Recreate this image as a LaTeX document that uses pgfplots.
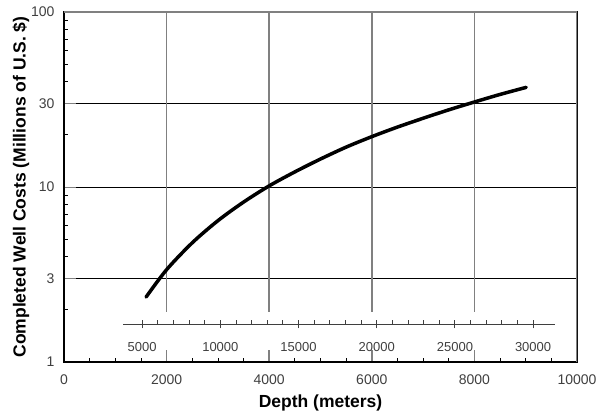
\documentclass[border=0pt]{standalone}
\usepackage{pgfplots}
\pgfplotsset{compat=1.18}
\usepackage{fontspec}
\setmainfont{Liberation Sans}
\definecolor{gridgray}{HTML}{808080}
\definecolor{labgray}{HTML}{3F3F3F}

\begin{document}
\begin{tikzpicture}
\useasboundingbox (-64bp,-53bp) rectangle (533bp,362bp);
% main axis: depth in meters, log cost
\begin{axis}[
    scale only axis,
    width=513bp, height=350bp,
    xmin=0, xmax=10000,
    ymode=log, ymin=1, ymax=100,
    xtick={0,2000,...,10000},
    minor x tick num=3,
    ytick={1,3,10,30,100},
    yticklabels={1,3,10,30,100},
    minor ytick={2,4,5,6,7,8,9,20,40,50,60,70,80,90},
    tick pos=left, tick align=inside,
    major tick length=12bp, minor tick length=4bp,
    every major x tick/.append style={gridgray, line width=1.5bp},
    every minor tick/.append style={black, line width=0.8bp},
    ymajorgrids,
    grid style={black, line width=0.9bp},
    axis line style={black, line width=1.2bp},
    scaled x ticks=false,
    /pgf/number format/1000 sep={},
    /pgf/number format/assume math mode=true,
    tick label style={font=\fontsize{14bp}{16bp}\selectfont, text=labgray},
    xticklabel style={anchor=center, yshift=-18bp},
    yticklabel style={xshift=-6bp},
    xlabel={Depth (meters)},
    ylabel={Completed Well Costs (Millions of U.S. \$)},
    label style={font=\fontsize{17.5bp}{19bp}\selectfont\bfseries},
    xlabel style={at={(axis description cs:0.5,-0.117)}, anchor=center},
    ylabel style={at={(axis description cs:-0.0838,0.5)}, anchor=center},
]
\pgfplotsinvokeforeach{2000,4000,6000,8000}{
  \draw[gridgray, line width=1.5bp] (axis cs:#1,1.931) -- (axis cs:#1,100);
}
\draw[gridgray, line width=1.5bp] (rel axis cs:0,1) -- (rel axis cs:1,1) -- (rel axis cs:1,0);
\addplot[black, line width=3.5bp, smooth, line cap=round] coordinates {
  (1600,2.35) (2000,3.37) (2500,4.80) (3000,6.42) (3500,8.20)
  (4000,10.15) (4500,12.2) (5000,14.45) (5500,16.9) (6000,19.4)
  (6500,22.0) (7000,24.7) (7500,27.6) (8000,30.6) (8500,33.8) (9010,37.1)
};
\end{axis}
% secondary axis: depth in feet
\begin{axis}[
    scale only axis,
    width=431.56bp, height=20bp,
    at={(59.42bp,37.7bp)}, anchor=south west,
    xmin=3800, xmax=31400, ymin=0, ymax=1,
    axis x line*=bottom,
    hide y axis,
    xtick={5000,10000,...,30000},
    minor x tick num=4,
    tick align=center,
    major tick length=8bp, minor tick length=4bp,
    every minor tick/.append style={yshift=2bp},
    axis line style={labgray, line width=1.2bp},
    tick style={labgray, line width=1bp},
    scaled x ticks=false,
    /pgf/number format/1000 sep={},
    /pgf/number format/assume math mode=true,
    tick label style={font=\fontsize{13bp}{15bp}\selectfont, text=labgray},
    xticklabel style={anchor=center, yshift=-19bp},
]
\end{axis}
\end{tikzpicture}
\end{document}
